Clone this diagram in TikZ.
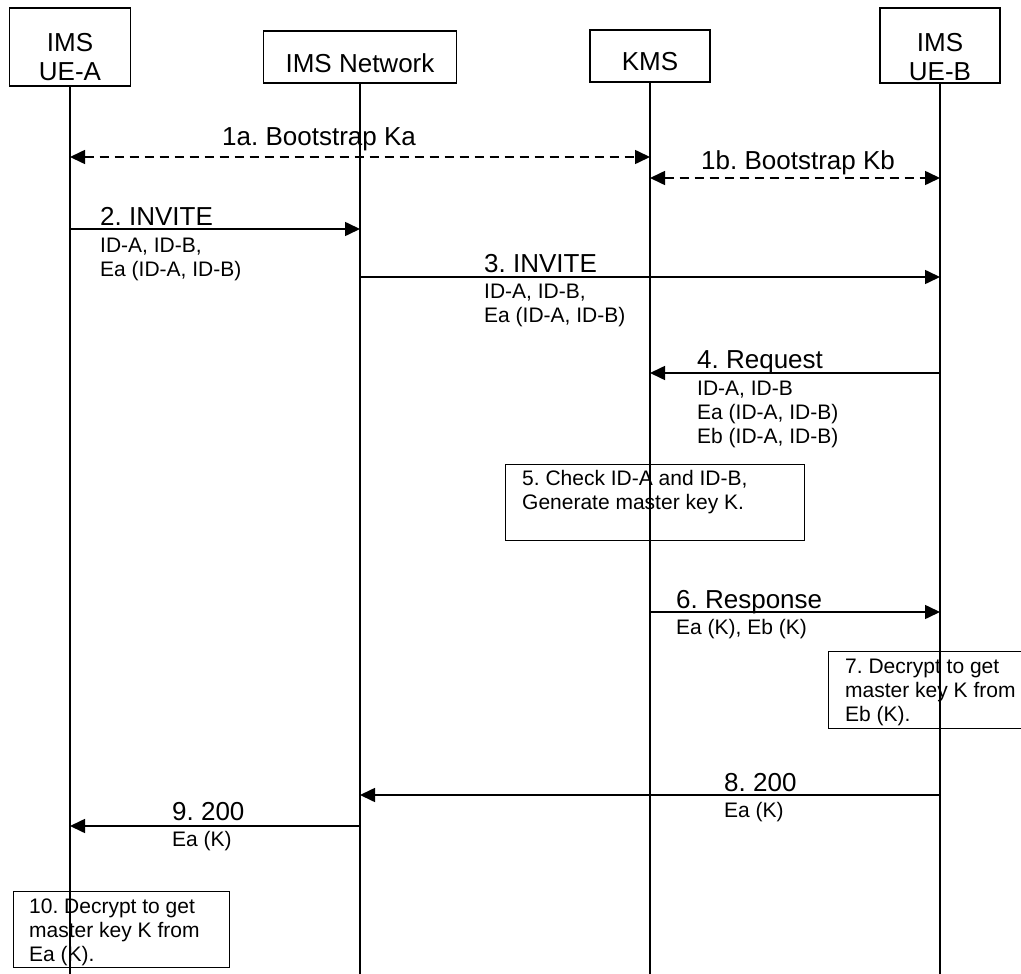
\documentclass[tikz,border=0pt]{standalone}
\usepackage{fontspec}
\setmainfont{Liberation Sans}
\usetikzlibrary{arrows.meta}
\frenchspacing
\tikzset{
  entity/.style={draw, line width=1.3pt, inner sep=0pt},
  title/.style={inner sep=0pt, align=center, font=\fontsize{26}{29}\selectfont},
  lifeline/.style={line width=1.6pt},
  msg/.style={line width=1.6pt, -{Triangle[length=15pt,width=14pt]}},
  dmsg/.style={line width=1.6pt, dash pattern=on 9pt off 6pt,
    {Triangle[length=15pt,width=14pt]}-{Triangle[length=15pt,width=14pt]}},
  lbl/.style={inner sep=0pt, anchor=base west, font=\fontsize{26}{29}\selectfont},
  info/.style={inner sep=0pt, anchor=base west, align=left, font=\fontsize{21}{24}\selectfont},
  notebox/.style={draw, line width=1.3pt, inner sep=0pt, anchor=north west},
}
\begin{document}
\begin{tikzpicture}[x=1pt, y=-1pt]
\useasboundingbox (0,0) rectangle (1021,974);
% participants (multi-line texts sit on the baseline of their last line)
\node[entity, minimum width=121pt, minimum height=78pt] (uea) at (70,47) {};
\node[entity, minimum width=193pt, minimum height=52pt] (net) at (360,57) {};
\node[entity, minimum width=120pt, minimum height=52pt] (kms) at (650,56) {};
\node[entity, minimum width=120pt, minimum height=75pt] (ueb) at (940,45.5) {};
\node[title, anchor=base] (ueatxt) at (70,81) {IMS\\UE-A};
\node[title, anchor=base] (nettxt) at (360,73) {IMS Network};
\node[title, anchor=base] (kmstxt) at (650,71) {KMS};
\node[title, anchor=base] (uebtxt) at (940,81) {IMS\\UE-B};
% lifelines
\coordinate (bottom) at (0,974);
\draw[lifeline] (uea.south) -- (uea.south |- bottom);
\draw[lifeline] (net.south) -- (net.south |- bottom);
\draw[lifeline] (kms.south) -- (kms.south |- bottom);
\draw[lifeline] (ueb.south) -- (ueb.south |- bottom);
% 1a, 1b
\coordinate (y1a) at (0,157);
\coordinate (y1b) at (0,178);
\draw[dmsg] (uea |- y1a) -- (kms |- y1a);
\node[lbl] (l1a) at (222,145) {1a. Bootstrap Ka};
\draw[dmsg] (kms |- y1b) -- (ueb |- y1b);
\node[lbl] (l1b) at (701,169) {1b. Bootstrap Kb};
% 2. INVITE
\coordinate (y2) at (0,229);
\draw[msg] (uea |- y2) -- (net |- y2);
\node[lbl] (l2) at (100,225) {2. INVITE};
\node[info] (i2) at (100,276) {ID-A, ID-B,\\Ea (ID-A, ID-B)};
% 3. INVITE
\coordinate (y3) at (0,277);
\draw[msg] (net |- y3) -- (ueb |- y3);
\node[lbl] (l3) at (484,272) {3. INVITE};
\node[info] (i3) at (484,322) {ID-A, ID-B,\\Ea (ID-A, ID-B)};
% 4. Request
\coordinate (y4) at (0,373);
\draw[msg] (ueb |- y4) -- (kms |- y4);
\node[lbl] (l4) at (697,368) {4. Request};
\node[info] (i4) at (697,443) {ID-A, ID-B\\Ea (ID-A, ID-B)\\Eb (ID-A, ID-B)};
% 5. check
\node[notebox, minimum width=299pt, minimum height=76pt] (n5) at (505,464) {};
\node[info] (t5) at (522,509) {5. Check ID-A and ID-B,\\Generate master key K.};
% 6. Response
\coordinate (y6) at (0,612);
\draw[msg] (kms |- y6) -- (ueb |- y6);
\node[lbl] (l6) at (676,608) {6. Response};
\node[info] (i6) at (676,634) {Ea (K), Eb (K)};
% 7. decrypt at UE-B
\node[notebox, minimum width=200pt, minimum height=77pt] (n7) at (828,651) {};
\node[info] (t7) at (845,721) {7. Decrypt to get\\master key K from\\Eb (K).};
% 8. 200
\coordinate (y8) at (0,795);
\draw[msg] (ueb |- y8) -- (net |- y8);
\node[lbl] (l8) at (724,791) {8. 200};
\node[info] (i8) at (724,817) {Ea (K)};
% 9. 200
\coordinate (y9) at (0,826);
\draw[msg] (net |- y9) -- (uea |- y9);
\node[lbl] (l9) at (172,820) {9. 200};
\node[info] (i9) at (172,846) {Ea (K)};
% 10. decrypt at UE-A
\node[notebox, minimum width=216pt, minimum height=76pt] (n10) at (13,891) {};
\node[info] (t10) at (29,961) {10. Decrypt to get\\master key K from\\Ea (K).};
\end{tikzpicture}
\end{document}
